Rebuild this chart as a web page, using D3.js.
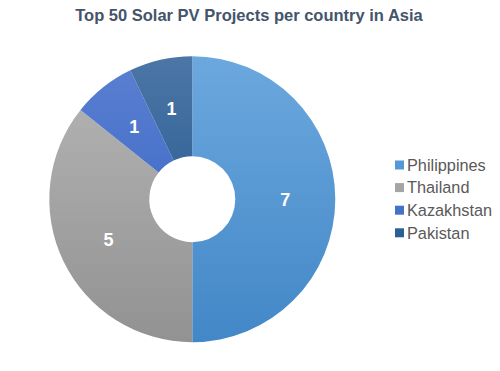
<!DOCTYPE html>
<html>
<head>
<meta charset="utf-8">
<script src="https://cdn.jsdelivr.net/npm/d3@7"></script>
<style>
  body { margin: 0; background: #fff; }
  svg { display: block; font-family: "Liberation Sans", Arial, sans-serif; }
</style>
</head>
<body>
<script>
const countries = ["Philippines", "Thailand", "Kazakhstan", "Pakistan"];
const projects = [7, 5, 1, 1];
const topColors = ["#6ca8de", "#b6b6b6", "#5b80d2", "#4b76a6"];
const bottomColors = ["#4287c7", "#929292", "#2d5ebe", "#1a4f87"];
const legendColors = ["#5598d6", "#a5a5a5", "#4472c4", "#2b5f97"];

const width = 500, height = 371;
const cx = 192.3, cy = 199.2, outerR = 143, innerR = 43;

const svg = d3.select("body").append("svg")
  .attr("width", width)
  .attr("height", height);

// title
svg.append("text")
  .attr("x", 249)
  .attr("y", 21)
  .attr("text-anchor", "middle")
  .attr("font-size", 16.5)
  .attr("font-weight", "bold")
  .attr("fill", "#44546a")
  .text("Top 50 Solar PV Projects per country in Asia");

// vertical gradients, lighter on top (coords are local to the chart group)
const defs = svg.append("defs");
countries.forEach(function (c, i) {
  const g = defs.append("linearGradient")
    .attr("id", "grad" + i)
    .attr("gradientUnits", "userSpaceOnUse")
    .attr("x1", 0).attr("x2", 0)
    .attr("y1", -outerR).attr("y2", outerR);
  g.append("stop").attr("offset", "0%").attr("stop-color", topColors[i]);
  g.append("stop").attr("offset", "100%").attr("stop-color", bottomColors[i]);
});

const pie = d3.pie().sort(null).value(d => d);
const arc = d3.arc().innerRadius(innerR).outerRadius(outerR);
const arcs = pie(projects);

const chart = svg.append("g")
  .attr("transform", `translate(${cx},${cy})`);

chart.selectAll("path")
  .data(arcs)
  .enter()
  .append("path")
  .attr("d", arc)
  .attr("fill", (d, i) => `url(#grad${i})`);

chart.selectAll("text.lbl")
  .data(arcs)
  .enter()
  .append("text")
  .attr("class", "lbl")
  .attr("transform", d => `translate(${arc.centroid(d)})`)
  .attr("dy", "0.36em")
  .attr("text-anchor", "middle")
  .attr("font-size", 18)
  .attr("font-weight", "bold")
  .attr("fill", "#fff")
  .text(d => d.data);

// legend
const legend = svg.append("g")
  .attr("transform", "translate(395,165)");

const rows = legend.selectAll("g")
  .data(countries)
  .enter()
  .append("g")
  .attr("transform", (d, i) => `translate(0,${i * 22.6})`);

rows.append("rect")
  .attr("x", 0).attr("y", -4.5)
  .attr("width", 9).attr("height", 9)
  .attr("fill", (d, i) => legendColors[i]);

rows.append("text")
  .attr("x", 12)
  .attr("dy", "0.36em")
  .attr("font-size", 16.3)
  .attr("fill", "#595959")
  .text(d => d);
</script>
</body>
</html>
